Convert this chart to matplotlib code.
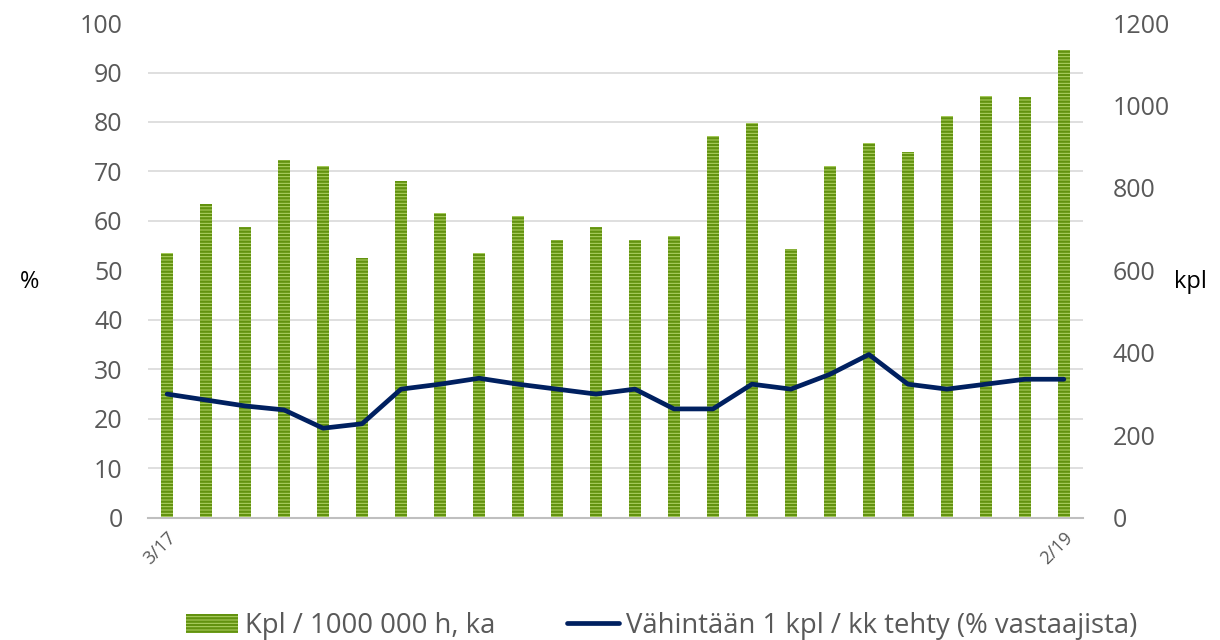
import numpy as np
import matplotlib.pyplot as plt

months = ["3/17", "4/17", "5/17", "6/17", "7/17", "8/17", "9/17", "10/17", "11/17", "12/17",
          "1/18", "2/18", "3/18", "4/18", "5/18", "6/18", "7/18", "8/18", "9/18", "10/18",
          "11/18", "12/18", "1/19", "2/19"]
kpl = [642, 760, 706, 868, 853, 629, 816, 740, 642, 732, 673, 706,
       673, 684, 926, 958, 652, 853, 908, 888, 974, 1024, 1021, 1135]
pct = [25, 23.8, 22.6, 21.8, 18.1, 19.0, 26.0, 27.0, 28.2, 27.0, 26.0, 25.0,
       26.0, 22.0, 22.0, 27.0, 26.0, 29.0, 33.0, 27.0, 26.0, 27.0, 28.0, 28.0]
shown_ticks = ["3/17", "2/19"]

TXT = "#595959"
plt.rcParams['font.family'] = ['Open Sans', 'DejaVu Sans']
plt.rcParams['hatch.linewidth'] = 1.7

fig = plt.figure(figsize=(12.2, 6.4), dpi=100)
ax = fig.add_axes([0.121, 0.191, 0.767, 0.773])   # bars, kpl scale (right)
ax2 = ax.twinx()                                   # line, % scale (left)
ax2.set_zorder(ax.get_zorder() + 1)
ax2.patch.set_visible(False)

x = np.arange(len(months))
ax.bar(x, kpl, width=0.29, facecolor="#b3d46a", edgecolor="#62920f",
       linewidth=0, hatch="-----", label="Kpl / 1000 000 h, ka")
ax2.plot(x, pct, color="#002060", lw=3.4, solid_capstyle="round",
         label="Vähintään 1 kpl / kk tehty (% vastaajista)")

ax.set_xlim(-0.5, len(months) - 0.5)
ax.set_ylim(0, 1200)
ax2.set_ylim(0, 100)

# kpl axis on the right, % axis on the left
ax.yaxis.tick_right()
ax.yaxis.set_label_position("right")
ax2.yaxis.tick_left()
ax2.yaxis.set_label_position("left")
ax.set_yticks(np.arange(0, 1201, 200))
ax2.set_yticks(np.arange(0, 101, 10))

# gridlines follow the % ticks, drawn behind the bars
ax.set_yticks(np.arange(0, 1201, 120), minor=True)
ax.grid(which="minor", axis="y", color="#d9d9d9", lw=1.2)
ax.set_axisbelow(True)
ax.tick_params(axis="y", which="minor", length=0)

idx = [months.index(m) for m in shown_ticks]
ax.set_xticks(idx)
ax.set_xticklabels(shown_ticks, rotation=45, ha="right", rotation_mode="anchor",
                   color=TXT, fontsize=13)
ax.tick_params(axis="x", length=0, pad=8)
ax.tick_params(axis="y", which="major", length=0, labelsize=18, labelcolor=TXT, pad=21)
ax2.tick_params(axis="y", length=0, labelsize=18, labelcolor=TXT, pad=18)
ax2.tick_params(axis="x", length=0)

for a in (ax, ax2):
    for s in ("top", "left", "right"):
        a.spines[s].set_visible(False)
ax.spines["bottom"].set_color("#bfbfbf")
ax.spines["bottom"].set_linewidth(1.5)
ax2.spines["bottom"].set_visible(False)

fig.text(0.024, 0.56, "%", fontsize=17, color="black", va="center", ha="center")
fig.text(0.976, 0.56, "kpl", fontsize=17, color="black", va="center", ha="center")

h1, l1 = ax.get_legend_handles_labels()
h2, l2 = ax2.get_legend_handles_labels()
fig.legend(h1 + h2, l1 + l2, loc="center", bbox_to_anchor=(0.542, 0.022), ncol=2,
           frameon=False, fontsize=19.8, labelcolor=TXT, handlelength=1.9,
           columnspacing=2.6, handletextpad=0.25, borderpad=0.1)

fig.savefig("out.png", dpi=100)
